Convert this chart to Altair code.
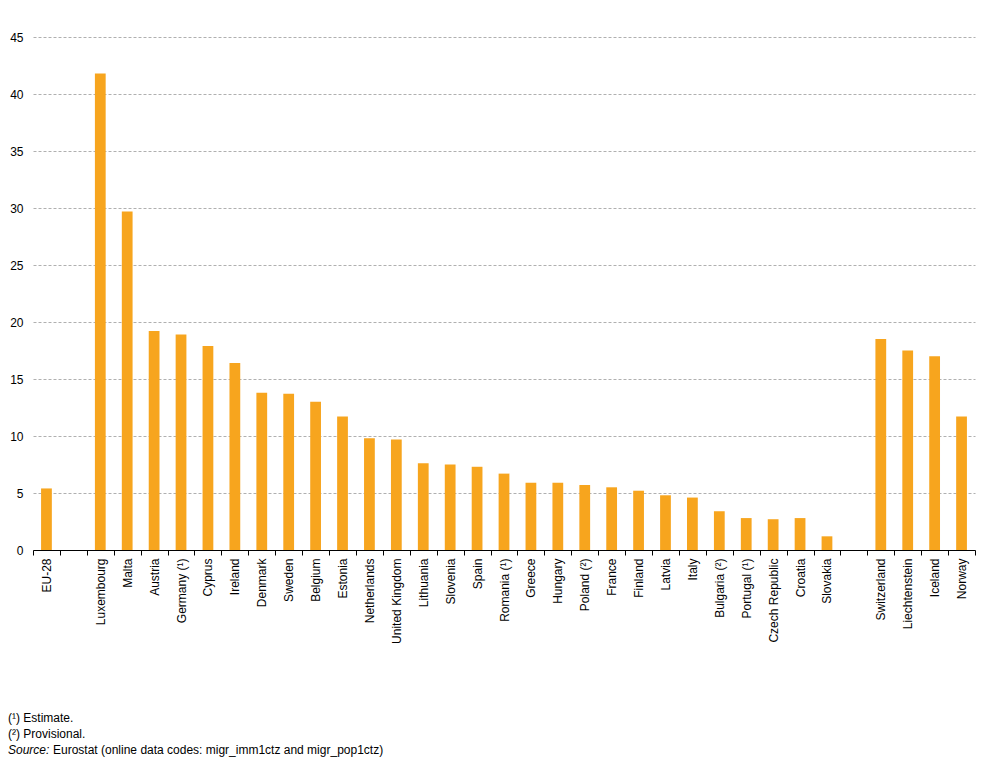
import altair as alt
import pandas as pd

countries = ["EU-28", " ", "Luxembourg", "Malta", "Austria", "Germany (¹)", "Cyprus",
             "Ireland", "Denmark", "Sweden", "Belgium", "Estonia", "Netherlands",
             "United Kingdom", "Lithuania", "Slovenia", "Spain", "Romania (¹)", "Greece",
             "Hungary", "Poland (²)", "France", "Finland", "Latvia", "Italy",
             "Bulgaria (²)", "Portugal (¹)", "Czech Republic", "Croatia", "Slovakia",
             "  ", "Switzerland", "Liechtenstein", "Iceland", "Norway"]
values = [5.4, None, 41.8, 29.7, 19.2, 18.9, 17.9, 16.4, 13.8, 13.7, 13.0, 11.7, 9.8,
          9.7, 7.6, 7.5, 7.3, 6.7, 5.9, 5.9, 5.7, 5.5, 5.2, 4.8, 4.6,
          3.4, 2.8, 2.7, 2.8, 1.2, None, 18.5, 17.5, 17.0, 11.7]
y_ticks = [0, 5, 10, 15, 20, 25, 30, 35, 40, 45]

footnote1 = "(¹) Estimate."
footnote2 = "(²) Provisional."
source_label = "Source:"
source_text = "Eurostat (online data codes: migr_imm1ctz and migr_pop1ctz)"

FONT = "Liberation Sans, Arial, sans-serif"

df = pd.DataFrame({"country": countries, "value": values})

bars = alt.Chart(df).mark_bar(color="#F7A51E", width=alt.RelativeBandSize(0.4)).encode(
    x=alt.X("country:N", sort=countries,
            scale=alt.Scale(domain=countries, paddingInner=0, paddingOuter=0),
            axis=alt.Axis(title=None, labelAngle=-90, tickBand="extent", labelOverlap=False,
                          domainColor="#000000", tickColor="#000000", tickSize=5,
                          labelPadding=3, labelFont=FONT, labelFontSize=12,
                          labelColor="#000000", grid=False, labelLimit=300)),
    y=alt.Y("value:Q", scale=alt.Scale(domain=[0, 45], nice=False),
            axis=alt.Axis(title=None, values=y_ticks, domain=False, ticks=False,
                          labelPadding=10, labelFont=FONT, labelFontSize=12,
                          labelColor="#000000", grid=True, gridColor="#b0b0b0",
                          gridDash=[3, 2], gridWidth=1)),
)

one = pd.DataFrame({"a": [0]})

def note(text, x, y, italic=False):
    return alt.Chart(one).mark_text(
        align="left", baseline="middle", font=FONT, fontSize=12, color="#000000",
        fontStyle="italic" if italic else "normal"
    ).encode(x=alt.value(x), y=alt.value(y), text=alt.value(text))

chart = alt.layer(
    bars,
    note(footnote1, -25, 681),
    note(footnote2, -25, 697),
    note(source_label, -25, 713, italic=True),
    note(source_text, 20, 713),
).properties(
    width=942, height=513,
    autosize=alt.AutoSizeParams(type="none"),
    padding={"left": 25, "top": 29, "right": 22, "bottom": 209},
).configure_view(stroke=None)

chart.save("out.html", embed_options={"renderer": "svg", "actions": False})
